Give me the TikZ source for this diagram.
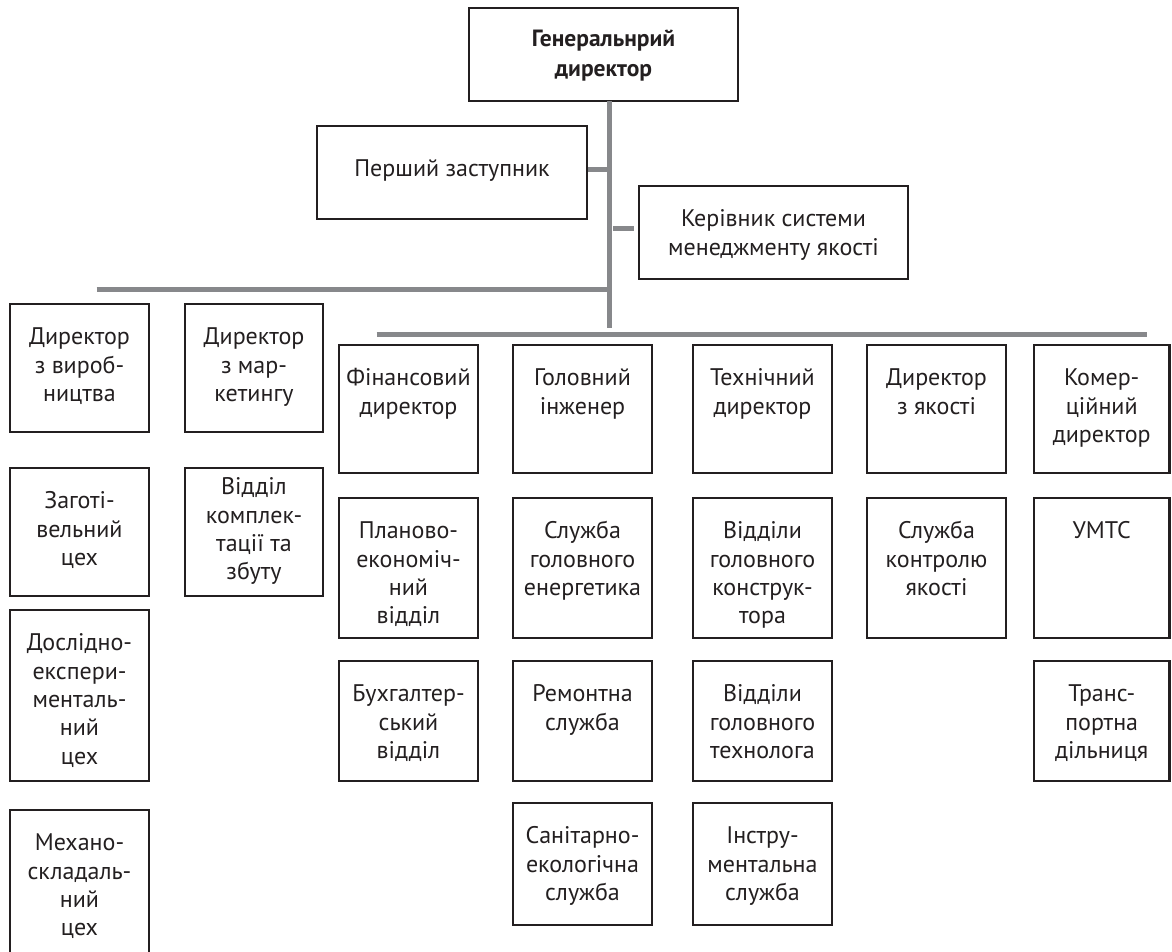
\documentclass[tikz,border=0pt]{standalone}
\usepackage{fontspec}
\setmainfont{PT Sans}
\usetikzlibrary{fit,calc}
\definecolor{ink}{RGB}{35,31,32}
\definecolor{bar}{RGB}{135,136,139}
\newcommand{\boxfont}{\fontsize{24}{28.3}\selectfont}
\newcommand{\topfont}{\fontsize{23.5}{30}\selectfont\bfseries}
\newcommand{\bx}[7][42]{%
  \node[orgbox, fit={(#3,#4)(#5,#6)}] (#2) {};
  \node[orgtext, anchor=north] (#2t) at ($(#2.north)+(0,#1-20)$) {\rule{0pt}{20pt}#7};
}
\begin{document}
\begin{tikzpicture}[x=1pt,y=-1pt,
  orgbox/.style={draw=ink, line width=2.6pt, inner sep=0pt},
  orgtext/.style={text=ink, align=center, inner sep=0pt, font=\boxfont},
  barline/.style={draw=bar, line width=5pt}]
\useasboundingbox (0,0) rectangle (1172,952);
\clip (0,0) rectangle (1172,952);
% top level
\node[orgbox, fit={(469,8)(738,101)}] (gd) {};
\node[orgtext, anchor=north, font=\topfont] (gdt) at ($(gd.north)+(0,20)$) {\rule{0pt}{20pt}Генеральнрий\\директор};
\bx[52]{pz}{317}{126}{587}{219}{Перший заступник}
\bx{ksm}{639}{186}{908}{279}{Керівник системи\\менеджменту якості}
% left columns
\bx{dv}{10}{304}{149}{432}{Директор\\з вироб-\\ництва}
\bx{zag}{10}{468}{149}{596}{Заготі-\\вельний\\цех}
\bx{dosl}{10}{610}{149}{781}{Дослідно-\\експери-\\менталь-\\ний\\цех}
\bx{mech}{10}{810}{149}{995}{Механо-\\складаль-\\ний\\цех}
\bx{dm}{185}{304}{323}{432}{Директор\\з мар-\\кетингу}
\bx[28]{vkz}{185}{468}{323}{596}{Відділ\\комплек-\\тації та\\збуту}
% column 1
\bx{fin}{339}{345}{478}{473}{Фінансовий\\директор}
\bx{pe}{339}{498}{478}{638}{Планово-\\економіч-\\ний\\відділ}
\bx{bukh}{339}{661}{478}{781}{Бухгалтер-\\ський\\відділ}
% column 2
\bx{hi}{513}{345}{652}{473}{Головний\\інженер}
\bx{sge}{513}{498}{652}{638}{Служба\\головного\\енергетика}
\bx{rem}{513}{661}{652}{781}{Ремонтна\\служба}
\bx{san}{513}{803}{652}{925}{Санітарно-\\екологічна\\служба}
% column 3
\bx{td}{693}{345}{832}{473}{Технічний\\директор}
\bx{vgk}{693}{498}{832}{638}{Відділи\\головного\\конструк-\\тора}
\bx{vgt}{693}{661}{832}{781}{Відділи\\головного\\технолога}
\bx{instr}{693}{803}{832}{925}{Інстру-\\ментальна\\служба}
% column 4
\bx{dya}{867}{345}{1006}{473}{Директор\\з якості}
\bx{skya}{867}{498}{1006}{638}{Служба\\контролю\\якості}
% column 5
\bx{kom}{1034}{345}{1169.5}{473}{Комер-\\ційний\\директор}
\bx{umts}{1034}{498}{1169.5}{638}{УМТС}
\bx{trans}{1034}{661}{1169.5}{781}{Транс-\\портна\\дільниця}
% connectors
\coordinate (vtop) at (609.3,101);
\coordinate (vbot) at (609.3,328);
\coordinate (lbar0) at (96.7,289.3);
\coordinate (rbar0) at (376.7,334);
\coordinate (rbar1) at (1146.7,334);
\draw[barline] (vtop) -- (vbot);
\draw[barline] (lbar0) -- (lbar0 -| vtop);
\draw[barline] (rbar0) -- (rbar1);
\draw[barline] ([yshift=3pt]pz.east) -- ([yshift=3pt]pz.east -| vtop);
\draw[barline, shorten <=4pt, shorten >=3.5pt] ([yshift=4pt]ksm.west -| vtop) -- ([yshift=4pt]ksm.west);
\end{tikzpicture}
\end{document}
